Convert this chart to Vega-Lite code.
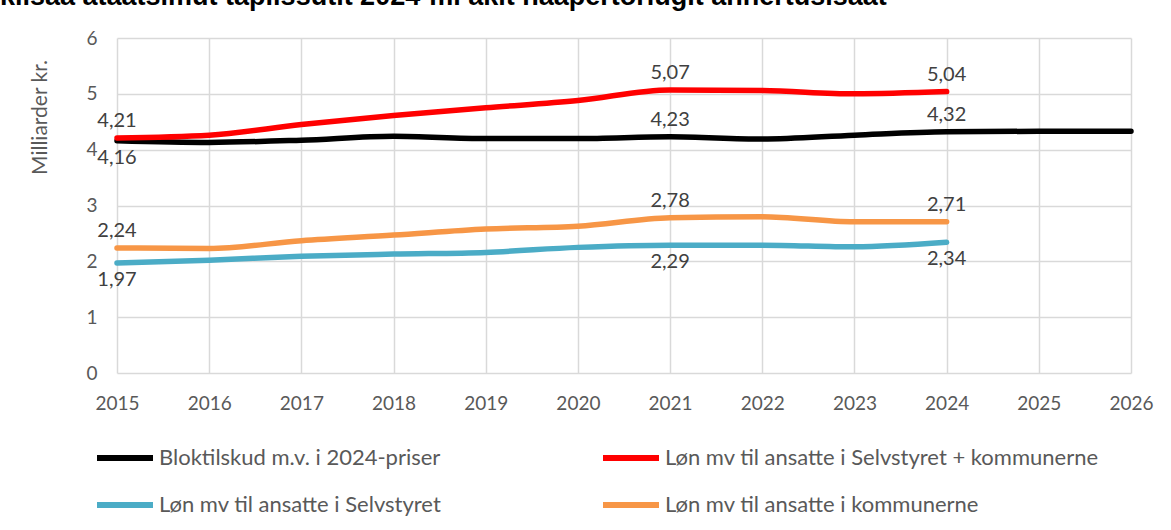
{
  "$schema": "https://vega.github.io/schema/vega-lite/v6.json",
  "autosize": "none",
  "width": 1014,
  "height": 335,
  "padding": {"left": 117, "top": 38, "right": 40, "bottom": 157},
  "background": "white",
  "title": {
    "text": "kiisaa ataatsimut tapiissutit 2024-mi akit naapertorlugit annertusisaat",
    "anchor": "start",
    "frame": "group",
    "offset": 0,
    "dx": -117,
    "dy": 3,
    "fontSize": 27,
    "font": "Liberation Sans",
    "fontWeight": "bold",
    "color": "#000000",
    "baseline": "alphabetic"
  },
  "data": {
    "values": [
      {"year": 2015, "series": "Bloktilskud m.v. i 2024-priser", "value": 4.16, "label": "4,16", "pos": "below"},
      {"year": 2016, "series": "Bloktilskud m.v. i 2024-priser", "value": 4.13},
      {"year": 2017, "series": "Bloktilskud m.v. i 2024-priser", "value": 4.17},
      {"year": 2018, "series": "Bloktilskud m.v. i 2024-priser", "value": 4.24},
      {"year": 2019, "series": "Bloktilskud m.v. i 2024-priser", "value": 4.2},
      {"year": 2020, "series": "Bloktilskud m.v. i 2024-priser", "value": 4.2},
      {"year": 2021, "series": "Bloktilskud m.v. i 2024-priser", "value": 4.23, "label": "4,23", "pos": "above"},
      {"year": 2022, "series": "Bloktilskud m.v. i 2024-priser", "value": 4.19},
      {"year": 2023, "series": "Bloktilskud m.v. i 2024-priser", "value": 4.26},
      {"year": 2024, "series": "Bloktilskud m.v. i 2024-priser", "value": 4.32, "label": "4,32", "pos": "above"},
      {"year": 2025, "series": "Bloktilskud m.v. i 2024-priser", "value": 4.33},
      {"year": 2026, "series": "Bloktilskud m.v. i 2024-priser", "value": 4.33},
      {"year": 2015, "series": "Løn mv til ansatte i Selvstyret + kommunerne", "value": 4.21, "label": "4,21", "pos": "above"},
      {"year": 2016, "series": "Løn mv til ansatte i Selvstyret + kommunerne", "value": 4.26},
      {"year": 2017, "series": "Løn mv til ansatte i Selvstyret + kommunerne", "value": 4.45},
      {"year": 2018, "series": "Løn mv til ansatte i Selvstyret + kommunerne", "value": 4.61},
      {"year": 2019, "series": "Løn mv til ansatte i Selvstyret + kommunerne", "value": 4.75},
      {"year": 2020, "series": "Løn mv til ansatte i Selvstyret + kommunerne", "value": 4.88},
      {"year": 2021, "series": "Løn mv til ansatte i Selvstyret + kommunerne", "value": 5.07, "label": "5,07", "pos": "above"},
      {"year": 2022, "series": "Løn mv til ansatte i Selvstyret + kommunerne", "value": 5.06},
      {"year": 2023, "series": "Løn mv til ansatte i Selvstyret + kommunerne", "value": 5.0},
      {"year": 2024, "series": "Løn mv til ansatte i Selvstyret + kommunerne", "value": 5.04, "label": "5,04", "pos": "above"},
      {"year": 2015, "series": "Løn mv til ansatte i Selvstyret", "value": 1.97, "label": "1,97", "pos": "below"},
      {"year": 2016, "series": "Løn mv til ansatte i Selvstyret", "value": 2.02},
      {"year": 2017, "series": "Løn mv til ansatte i Selvstyret", "value": 2.09},
      {"year": 2018, "series": "Løn mv til ansatte i Selvstyret", "value": 2.13},
      {"year": 2019, "series": "Løn mv til ansatte i Selvstyret", "value": 2.16},
      {"year": 2020, "series": "Løn mv til ansatte i Selvstyret", "value": 2.25},
      {"year": 2021, "series": "Løn mv til ansatte i Selvstyret", "value": 2.29, "label": "2,29", "pos": "below"},
      {"year": 2022, "series": "Løn mv til ansatte i Selvstyret", "value": 2.29},
      {"year": 2023, "series": "Løn mv til ansatte i Selvstyret", "value": 2.26},
      {"year": 2024, "series": "Løn mv til ansatte i Selvstyret", "value": 2.34, "label": "2,34", "pos": "below"},
      {"year": 2015, "series": "Løn mv til ansatte i kommunerne", "value": 2.24, "label": "2,24", "pos": "above"},
      {"year": 2016, "series": "Løn mv til ansatte i kommunerne", "value": 2.23},
      {"year": 2017, "series": "Løn mv til ansatte i kommunerne", "value": 2.37},
      {"year": 2018, "series": "Løn mv til ansatte i kommunerne", "value": 2.47},
      {"year": 2019, "series": "Løn mv til ansatte i kommunerne", "value": 2.58},
      {"year": 2020, "series": "Løn mv til ansatte i kommunerne", "value": 2.63},
      {"year": 2021, "series": "Løn mv til ansatte i kommunerne", "value": 2.78, "label": "2,78", "pos": "above"},
      {"year": 2022, "series": "Løn mv til ansatte i kommunerne", "value": 2.8},
      {"year": 2023, "series": "Løn mv til ansatte i kommunerne", "value": 2.71},
      {"year": 2024, "series": "Løn mv til ansatte i kommunerne", "value": 2.71, "label": "2,71", "pos": "above"}
    ]
  },
  "encoding": {
    "x": {
      "field": "year",
      "type": "quantitative",
      "scale": {"domain": [2015, 2026], "nice": false, "zero": false},
      "axis": {
        "title": null,
        "format": "d",
        "values": [2015, 2016, 2017, 2018, 2019, 2020, 2021, 2022, 2023, 2024, 2025, 2026],
        "ticks": false,
        "domain": false,
        "labelFlush": false,
        "labelPadding": 21,
        "labelFontSize": 19,
        "labelFont": "Lato",
        "labelColor": "#595959",
        "gridColor": "#d9d9d9",
        "gridWidth": 1.5
      }
    },
    "y": {
      "field": "value",
      "type": "quantitative",
      "scale": {"domain": [0, 6], "nice": false},
      "axis": {
        "title": "Milliarder kr.",
        "values": [0, 1, 2, 3, 4, 5, 6],
        "ticks": false,
        "domain": false,
        "labelFlush": false,
        "labelPadding": 20,
        "labelFontSize": 19,
        "labelFont": "Lato",
        "labelColor": "#595959",
        "gridColor": "#d9d9d9",
        "gridWidth": 1.5,
        "titleFont": "Lato",
        "titleFontSize": 21,
        "titleFontWeight": "normal",
        "titleColor": "#595959",
        "titleX": -77,
        "titleY": 79,
        "titleAngle": 270,
        "titleAlign": "center",
        "titleBaseline": "middle"
      }
    }
  },
  "layer": [
    {
      "mark": {"type": "line", "strokeWidth": 5.5, "interpolate": "monotone", "strokeCap": "round"},
      "encoding": {
        "color": {
          "field": "series",
          "type": "nominal",
          "scale": {
            "domain": ["Bloktilskud m.v. i 2024-priser", "Løn mv til ansatte i Selvstyret + kommunerne", "Løn mv til ansatte i Selvstyret", "Løn mv til ansatte i kommunerne"],
            "range": ["#000000", "#ff0000", "#4bacc6", "#f79646"]
          },
          "legend": {
            "title": null,
            "orient": "none",
            "legendX": -23,
            "legendY": 389,
            "columns": 2,
            "direction": "horizontal",
            "symbolType": "stroke",
            "symbolStrokeWidth": 6,
            "symbolSize": 3136,
            "labelFont": "Lato",
            "labelFontSize": 22,
            "labelColor": "#595959",
            "labelOffset": 3,
            "labelLimit": 600,
            "columnPadding": 149,
            "rowPadding": 4
          }
        }
      }
    },
    {
      "transform": [{"filter": "datum.pos === 'above'"}],
      "mark": {"type": "text", "dy": -17, "fontSize": 20, "font": "Lato", "color": "#404040"},
      "encoding": {"text": {"field": "label"}}
    },
    {
      "transform": [{"filter": "datum.pos === 'below'"}],
      "mark": {"type": "text", "dy": 17, "fontSize": 20, "font": "Lato", "color": "#404040"},
      "encoding": {"text": {"field": "label"}}
    }
  ],
  "config": {"view": {"stroke": null}}
}
